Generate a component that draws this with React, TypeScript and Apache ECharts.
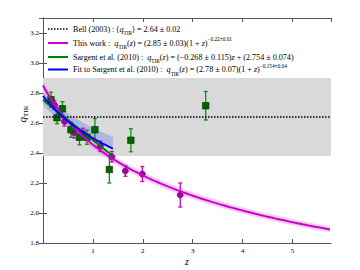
import React, { useEffect, useRef } from "react";
import * as echarts from "echarts";

// ---- data ----
const X_MAX = 5.77;
const Y_MIN = 1.8;
const Y_MAX = 3.3;
const BELL_MEAN = 2.64;
const BELL_BAND = [2.38, 2.9];
// This work fit: q = a (1+z)^b, band from a +/- da
const THIS_WORK_FIT = [2.85, -0.215, 0.03];
// Sargent et al. (2010) linear fit: q = m z + c
const SARGENT_LIN = [-0.268, 2.754];
const SARGENT_ZMAX = 1.41;
// Fit to Sargent: q = a (1+z)^b ; band upper/lower amplitudes
const SARGENT_POW = [2.78, -0.154];
const SARGENT_BAND_UP = [2.81, -0.13];
const SARGENT_BAND_LO = [2.72, -0.13];

// This work data points: z, q, error
const magentaZ = [0.23, 0.43, 0.62, 0.8, 1.15, 1.38, 1.65, 1.99, 2.75];
const magentaQ = [2.72, 2.61, 2.535, 2.53, 2.445, 2.375, 2.28, 2.26, 2.12];
const magentaE = [0.03, 0.03, 0.035, 0.035, 0.035, 0.035, 0.035, 0.05, 0.08];

// Sargent et al. data points
const greenZ = [0.16, 0.28, 0.39, 0.56, 0.73, 0.88, 1.04, 1.33, 1.76, 3.26];
const greenQ = [2.755, 2.635, 2.695, 2.555, 2.505, 2.505, 2.555, 2.29, 2.485, 2.715];
const greenE = [0.05, 0.04, 0.047, 0.05, 0.05, 0.047, 0.075, 0.09, 0.077, 0.095];

const xTicks = [1, 2, 3, 4, 5];
const yTicks = [1.8, 2.0, 2.2, 2.4, 2.6, 2.8, 3.0, 3.2];

const FONT = "Liberation Serif";

function powCurve(a: number, b: number, z0: number, z1: number, step: number) {
  const out: number[][] = [];
  for (let z = z0; z <= z1 + 1e-9; z += step) out.push([z, a * Math.pow(1 + z, b)]);
  return out;
}

export default function App() {
  const ref = useRef<HTMLDivElement>(null);
  useEffect(() => {
    if (!ref.current) return;
    const chart = echarts.init(ref.current, undefined, { renderer: "svg" });

    const [ta, tb, tda] = THIS_WORK_FIT;
    const magCurve = powCurve(ta, tb, 0, X_MAX, 0.05);
    const magUp = powCurve(ta + tda, tb, 0, X_MAX, 0.05);
    const magLo = powCurve(ta - tda, tb, 0, X_MAX, 0.05);
    const blueCurve = powCurve(SARGENT_POW[0], SARGENT_POW[1], 0, SARGENT_ZMAX, 0.05);
    const blueUp = powCurve(SARGENT_BAND_UP[0], SARGENT_BAND_UP[1], 0, SARGENT_ZMAX, 0.05);
    const blueLo = powCurve(SARGENT_BAND_LO[0], SARGENT_BAND_LO[1], 0, SARGENT_ZMAX, 0.05);
    const greenLine = [
      [0, SARGENT_LIN[1]],
      [SARGENT_ZMAX, SARGENT_LIN[0] * SARGENT_ZMAX + SARGENT_LIN[1]],
    ];

    const bandSeries = (up: number[][], lo: number[][], fill: string, opacity: number) => ({
      type: "custom",
      silent: true,
      clip: true,
      data: [[up[0][0], up[0][1]]],
      renderItem: (_p: any, api: any) => {
        const pts = up.map((p) => api.coord(p)).concat(lo.slice().reverse().map((p) => api.coord(p)));
        return { type: "polygon", shape: { points: pts }, style: { fill, opacity } };
      },
    });

    const errSeries = (zs: number[], qs: number[], es: number[], color: string) => ({
      type: "custom",
      silent: true,
      data: zs.map((z, i) => [z, qs[i], es[i]]),
      renderItem: (_p: any, api: any) => {
        const x = api.value(0), y = api.value(1), e = api.value(2);
        const t = api.coord([x, y + e]);
        const b = api.coord([x, y - e]);
        const c = 2;
        const st = { stroke: color, lineWidth: 1.3 };
        return {
          type: "group",
          children: [
            { type: "line", shape: { x1: t[0], y1: t[1], x2: b[0], y2: b[1] }, style: st },
            { type: "line", shape: { x1: t[0] - c, y1: t[1], x2: t[0] + c, y2: t[1] }, style: st },
            { type: "line", shape: { x1: b[0] - c, y1: b[1], x2: b[0] + c, y2: b[1] }, style: st },
          ],
        };
      },
    });

    const axisCommon = {
      axisLine: { show: true, lineStyle: { color: "#555", width: 1 } },
      axisTick: { show: true, inside: true, length: 4, lineStyle: { color: "#555" } },
      splitLine: { show: false },
    };

    const FS = 8.1;
    const rich = {
      n: { fontFamily: FONT, fontSize: FS, color: "#000", lineHeight: 13, verticalAlign: "middle" },
      it: { fontFamily: FONT, fontSize: FS, color: "#000", fontStyle: "italic", lineHeight: 13, verticalAlign: "middle" },
      sub: { fontFamily: FONT, fontSize: 5.3, color: "#000", lineHeight: 6, verticalAlign: "bottom" },
      sup: { fontFamily: FONT, fontSize: 5.3, color: "#000", lineHeight: 6, verticalAlign: "top" },
    };

    const legendRows = [
      { y: 29, color: "#000", dash: [1.5, 1.5], text: "{n|Bell (2003) : ⟨}{it|q}{sub|TIR}{n|⟩ = 2.64 ± 0.02}" },
      { y: 43, color: "#cc00cc", dash: null, text: "{n|This work :  }{it|q}{sub|TIR}{n|(}{it|z}{n|) = (2.85 ± 0.03)(1 + }{it|z}{n|)}{sup|−0.22±0.01}" },
      { y: 57, color: "#008000", dash: null, text: "{n|Sargent et al. (2010) :  }{it|q}{sub|TIR}{n|(}{it|z}{n|) = (−0.268 ± 0.115)}{it|z}{n| + (2.754 ± 0.074)}" },
      { y: 69.5, color: "#0000ff", dash: null, text: "{n|Fit to Sargent et al. (2010) :  }{it|q}{sub|TIR}{n|(}{it|z}{n|) = (2.78 ± 0.07)(1 + }{it|z}{n|)}{sup|−0.154±0.04}" },
    ];

    const graphics: any[] = [];
    legendRows.forEach((r) => {
      graphics.push({
        type: "line",
        silent: true,
        shape: { x1: 48, y1: r.y, x2: 68, y2: r.y },
        style: { stroke: r.color, lineWidth: r.dash ? 1.5 : 2, lineDash: r.dash || undefined },
        z: 100,
      });
      graphics.push({
        type: "text",
        silent: true,
        x: 73,
        y: r.y,
        style: { text: r.text, rich, verticalAlign: "middle", align: "left" },
        z: 100,
      });
    });
    graphics.push({
      type: "text",
      silent: true,
      x: 22,
      y: 114,
      rotation: Math.PI / 2,
      style: {
        text: "{q|q}{s|TIR}",
        rich: {
          q: { fontFamily: FONT, fontSize: 11, fontStyle: "italic", color: "#000", lineHeight: 14, verticalAlign: "middle" },
          s: { fontFamily: FONT, fontSize: 7, color: "#000", lineHeight: 7, verticalAlign: "bottom" },
        },
        align: "center",
        verticalAlign: "middle",
      },
    });
    graphics.push({
      type: "text",
      silent: true,
      x: 187,
      y: 261,
      style: { text: "z", fontFamily: FONT, fontSize: 10, fontStyle: "italic", fill: "#000", align: "center", verticalAlign: "middle" },
    });

    const isTick = (list: number[], v: number) => list.some((t) => Math.abs(t - v) < 1e-6);

    chart.setOption({
      animation: false,
      backgroundColor: "#fff",
      grid: { left: 43, right: 29, top: 18, bottom: 27, show: false },
      xAxis: [
        {
          type: "value", min: 0, max: X_MAX, interval: 1, position: "bottom",
          ...axisCommon,
          axisLabel: {
            show: true, fontFamily: FONT, fontSize: 7, color: "#000", margin: 4,
            showMinLabel: false, showMaxLabel: false,
            formatter: (v: number) => (isTick(xTicks, v) ? String(v) : ""),
          },
        },
        {
          type: "value", min: 0, max: X_MAX, interval: 1, position: "top",
          ...axisCommon, axisLabel: { show: false },
        },
      ],
      yAxis: [
        {
          type: "value", min: Y_MIN, max: Y_MAX, interval: 0.2, position: "left",
          ...axisCommon,
          axisLabel: {
            show: true, fontFamily: FONT, fontSize: 7, color: "#000", margin: 4,
            showMaxLabel: false,
            formatter: (v: number) => (isTick(yTicks, v) ? v.toFixed(1) : ""),
          },
        },
        {
          type: "value", min: Y_MIN, max: Y_MAX, interval: 0.2, position: "right",
          ...axisCommon,
          axisLabel: { show: false },
        },
      ],
      graphic: graphics,
      series: [
        {
          type: "custom",
          silent: true,
          data: [[0, BELL_BAND[1]]],
          renderItem: (_p: any, api: any) => {
            const a = api.coord([0, BELL_BAND[1]]);
            const b = api.coord([X_MAX, BELL_BAND[0]]);
            return { type: "rect", shape: { x: a[0], y: a[1], width: b[0] - a[0], height: b[1] - a[1] }, style: { fill: "#d9d9d9" } };
          },
        },
        {
          type: "line",
          silent: true,
          symbol: "none",
          data: [[0, BELL_MEAN], [X_MAX, BELL_MEAN]],
          lineStyle: { color: "#000", width: 1.5, type: [1.5, 1.5] },
        },
        bandSeries(blueUp, blueLo, "#7080e0", 0.4),
        bandSeries(magUp, magLo, "#e070e0", 0.35),
        {
          type: "line", silent: true, symbol: "none", data: magCurve,
          lineStyle: { color: "#cc00cc", width: 2 },
        },
        {
          type: "line", silent: true, symbol: "none", data: greenLine,
          lineStyle: { color: "#008000", width: 2 },
        },
        {
          type: "line", silent: true, symbol: "none", data: blueCurve,
          lineStyle: { color: "#0000ff", width: 2 },
        },
        errSeries(magentaZ, magentaQ, magentaE, "#cc00cc"),
        {
          type: "scatter", silent: true, symbol: "circle", symbolSize: 6,
          data: magentaZ.map((z, i) => [z, magentaQ[i]]),
          itemStyle: { color: "#a000a0", borderColor: "#500050", borderWidth: 0.6, opacity: 1 },
        },
        errSeries(greenZ, greenQ, greenE, "#1a8a1a"),
        {
          type: "scatter", silent: true, symbol: "rect", symbolSize: 6.5,
          data: greenZ.map((z, i) => [z, greenQ[i]]),
          itemStyle: { color: "#006400", borderColor: "#003000", borderWidth: 0.6, opacity: 1 },
        },
      ],
    });
    return () => chart.dispose();
  }, []);
  return <div ref={ref} style={{ width: 360, height: 270, position: "absolute", left: 0, top: 0 }} />;
}
